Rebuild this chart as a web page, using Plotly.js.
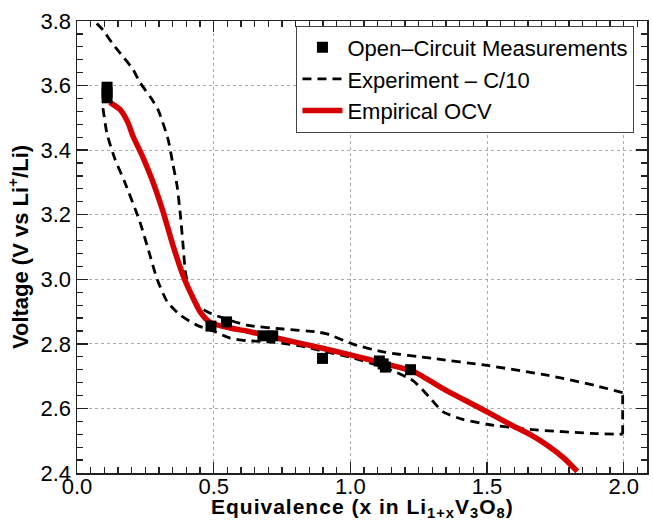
<!DOCTYPE html>
<html>
<head>
<meta charset="utf-8">
<script src="https://cdn.plot.ly/plotly-3.0.1.min.js"></script>
<style>
html,body{margin:0;padding:0;background:#fff;}
#chart{width:653px;height:532px;}
.annotation-text{letter-spacing:1px;}
</style>
</head>
<body>
<div id="chart"></div>
<script>
// Open-circuit measurements
const ocvX = [0.11, 0.11, 0.11, 0.49, 0.547, 0.68, 0.716, 0.898, 1.106, 1.12, 1.128, 1.22];
const ocvY = [3.595, 3.578, 3.562, 2.855, 2.868, 2.825, 2.825, 2.755, 2.747, 2.738, 2.728, 2.72];

// Experiment C/10 - discharge branch (lower)
const dischX = [0.095, 0.11, 0.139, 0.175, 0.23, 0.267, 0.292, 0.329, 0.376, 0.438, 0.497, 0.56, 0.62, 0.72, 0.84, 0.887, 1.007, 1.13, 1.229, 1.29, 1.338, 1.411, 1.499, 1.656, 1.90, 1.996];
const dischY = [3.53, 3.45, 3.372, 3.30, 3.178, 3.074, 3.003, 2.932, 2.89, 2.858, 2.84, 2.818, 2.81, 2.805, 2.79, 2.78, 2.757, 2.725, 2.686, 2.634, 2.59, 2.566, 2.551, 2.535, 2.522, 2.52];
// end of discharge -> start of charge
const turnX = [1.996, 1.996];
const turnY = [2.52, 2.649];
// Experiment C/10 - charge branch (upper)
const chargeX = [1.996, 1.90, 1.72, 1.50, 1.30, 1.12, 1.007, 0.914, 0.876, 0.753, 0.62, 0.534, 0.475, 0.43, 0.41, 0.397, 0.388, 0.378, 0.366, 0.35, 0.333, 0.296, 0.267, 0.23, 0.205, 0.168, 0.13, 0.095, 0.066];
const chargeY = [2.649, 2.67, 2.703, 2.733, 2.755, 2.775, 2.80, 2.831, 2.837, 2.846, 2.858, 2.88, 2.90, 2.93, 2.97, 3.02, 3.105, 3.20, 3.29, 3.36, 3.434, 3.526, 3.566, 3.61, 3.65, 3.69, 3.73, 3.772, 3.797];

// Empirical OCV
const empX = [0.12, 0.157, 0.186, 0.205, 0.24, 0.274, 0.315, 0.351, 0.388, 0.42, 0.45, 0.486, 0.56, 0.62, 0.73, 0.89, 1.0, 1.13, 1.18, 1.23, 1.35, 1.47, 1.59, 1.66, 1.72, 1.78, 1.83];
const empY = [3.548, 3.526, 3.486, 3.443, 3.38, 3.31, 3.209, 3.105, 3.012, 2.95, 2.90, 2.867, 2.849, 2.84, 2.818, 2.788, 2.766, 2.738, 2.727, 2.715, 2.656, 2.603, 2.548, 2.518, 2.486, 2.447, 2.405];

const xTicks = [0.0, 0.5, 1.0, 1.5, 2.0];
const xTickText = ['0.0', '0.5', '1.0', '1.5', '2.0'];
const yTicks = [2.4, 2.6, 2.8, 3.0, 3.2, 3.4, 3.6, 3.8];
const yTickText = ['2.4', '2.6', '2.8', '3.0', '3.2', '3.4', '3.6', '3.8'];
const xTitle = '<b>Equivalence (x in Li<sub>1+x</sub>V<sub>3</sub>O<sub>8</sub>)</b>';
const yTitle = '<b>Voltage (V vs Li<sup>+</sup>/Li)</b>';

const FONT = '"Liberation Sans", Arial, Helvetica, sans-serif';
const dashStyle = {color: '#000', width: 2.8, dash: '9px,6px'};

const traces = [
  {x: dischX, y: dischY, type: 'scatter', mode: 'lines', name: 'Experiment \u2013 C/10',
   legendgroup: 'exp', legendrank: 2, line: Object.assign({shape: 'spline', smoothing: 0.6}, dashStyle)},
  {x: turnX, y: turnY, type: 'scatter', mode: 'lines', name: 'Experiment \u2013 C/10',
   legendgroup: 'exp', showlegend: false, line: Object.assign({shape: 'linear'}, dashStyle)},
  {x: chargeX, y: chargeY, type: 'scatter', mode: 'lines', name: 'Experiment \u2013 C/10',
   legendgroup: 'exp', showlegend: false, line: Object.assign({shape: 'spline', smoothing: 0.6}, dashStyle)},
  {x: empX, y: empY, type: 'scatter', mode: 'lines', name: 'Empirical OCV', legendrank: 3,
   line: {color: '#d60000', width: 5.5, shape: 'spline', smoothing: 0.6}},
  {x: ocvX, y: ocvY, type: 'scatter', mode: 'markers', name: 'Open\u2013Circuit Measurements', legendrank: 1,
   marker: {symbol: 'square', size: 11, color: '#000'}}
];

const axisCommon = {
  showline: true, linecolor: '#222', linewidth: 1.5, mirror: 'allticks',
  ticks: 'inside', ticklen: 11, tickwidth: 1.3, tickcolor: '#222',
  showgrid: true, gridcolor: '#aaa', griddash: 'dot', gridwidth: 1,
  zeroline: false, tickfont: {family: FONT, size: 22, color: '#000'},
  tickmode: 'array'
};

const layout = {
  width: 653, height: 532,
  margin: {l: 77, r: 6, t: 21, b: 59},
  paper_bgcolor: '#fff', plot_bgcolor: '#fff',
  font: {family: FONT, color: '#000'},
  showlegend: true,
  legend: {
    x: 0.385, y: 0.99, xanchor: 'left', yanchor: 'top',
    bgcolor: '#fff', bordercolor: '#444', borderwidth: 1,
    font: {family: FONT, size: 22, color: '#000'},
    itemwidth: 40, traceorder: 'normal', tracegroupgap: 0
  },
  xaxis: Object.assign({}, axisCommon, {
    range: [0, 2.085], tickvals: xTicks, ticktext: xTickText,
    ticklabelstandoff: -7,
    minor: {tickmode: 'linear', tick0: 0, dtick: 0.05, ticks: 'inside', ticklen: 6, tickwidth: 1.2, tickcolor: '#222', showgrid: false}
  }),
  yaxis: Object.assign({}, axisCommon, {
    range: [2.4, 3.8], tickvals: yTicks, ticktext: yTickText,
    minor: {tickmode: 'linear', tick0: 2.4, dtick: 0.04, ticks: 'inside', ticklen: 6, tickwidth: 1.2, tickcolor: '#222', showgrid: false},
    title: {text: yTitle, font: {family: FONT, size: 22, color: '#000'}, standoff: 6}
  }),
  annotations: [{
    text: xTitle, xref: 'paper', yref: 'paper', x: 0.5, y: -0.044,
    xanchor: 'center', yanchor: 'top', showarrow: false,
    font: {family: FONT, size: 21, color: '#000'}
  }]
};

Plotly.newPlot('chart', traces, layout, {displayModeBar: false, staticPlot: true});
</script>
</body>
</html>
